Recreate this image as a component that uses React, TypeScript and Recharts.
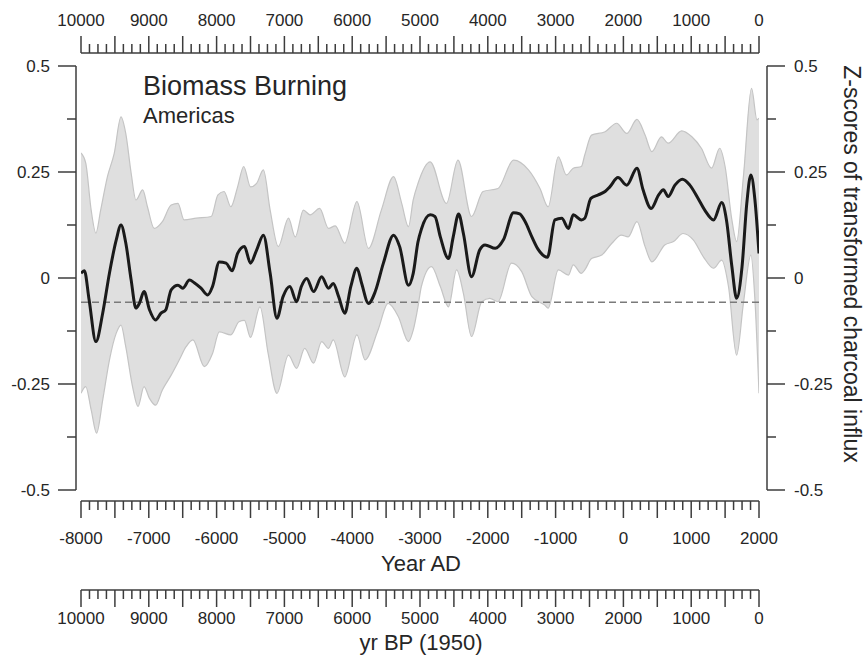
import React from 'react';
import { ComposedChart, Line, Area, XAxis, YAxis, ReferenceLine } from 'recharts';

// ---- data ----
const meanYears = [
  -8000, -7950, -7880, -7780, -7680, -7580, -7480, -7410, -7340, -7260, -7190, -7140, -7070, -6990,
  -6900, -6820, -6750, -6670, -6570, -6500, -6400, -6330, -6230, -6130, -6060, -5960, -5860, -5770,
  -5690, -5590, -5500, -5410, -5310, -5210, -5110, -5020, -4920, -4820, -4750, -4670, -4570, -4450,
  -4350, -4280, -4200, -4110, -4020, -3930, -3860, -3760, -3660, -3540, -3390, -3300, -3170, -3100,
  -3030, -2980, -2850, -2780, -2700, -2580, -2510, -2430, -2360, -2240, -2120, -2040, -1890, -1770,
  -1620, -1530, -1450, -1350, -1260, -1120, -1010, -910, -810, -740, -620, -570, -480, -370, -270,
  -200, -80, 50, 200, 290, 410, 520, 590, 660, 760, 870, 980, 1100, 1200, 1330, 1450, 1520, 1600,
  1670, 1750, 1820, 1880, 1940, 2000,
];
const meanValues = [
  0.011, 0.017, -0.052, -0.15, -0.083, 0.012, 0.09, 0.125, 0.083, -0.005, -0.071, -0.06, -0.032, -0.075,
  -0.099, -0.083, -0.075, -0.028, -0.017, -0.024, -0.005, -0.011, -0.024, -0.04, -0.02, 0.038, 0.035, 0.017,
  0.058, 0.074, 0.035, 0.066, 0.101, 0.011, -0.095, -0.044, -0.02, -0.056, -0.02, -0.001, -0.032, 0.003,
  -0.024, -0.013, -0.044, -0.083, -0.02, 0.023, -0.013, -0.06, -0.032, 0.035, 0.101, 0.074, -0.017, 0.011,
  0.085, 0.115, 0.149, 0.145, 0.097, 0.046, 0.097, 0.151, 0.105, 0.003, 0.066, 0.078, 0.07, 0.09,
  0.154, 0.151, 0.133, 0.097, 0.068, 0.049, 0.137, 0.141, 0.117, 0.149, 0.137, 0.141, 0.188, 0.196, 0.204,
  0.215, 0.237, 0.219, 0.259, 0.208, 0.164, 0.196, 0.208, 0.192, 0.219, 0.233, 0.219, 0.188, 0.16, 0.137, 0.178, 0.137, 0.027,
  -0.048, 0.027, 0.176, 0.243, 0.184, 0.058,
];

const upperYears = [
  -8000, -7930, -7850, -7780, -7710, -7610, -7510, -7410, -7340, -7260, -7190, -7090, -7020, -6920,
  -6800, -6670, -6570, -6480, -6300, -6080, -5980, -5890, -5790, -5690, -5600, -5500, -5410, -5310,
  -5210, -5090, -4940, -4840, -4720, -4620, -4480, -4350, -4250, -4110, -3930, -3760, -3570, -3390,
  -3270, -3170, -3100, -3030, -2850, -2610, -2440, -2240, -2070, -1850, -1620, -1400, -1230, -1110,
  -960, -840, -740, -620, -570, -470, -270, -100, 50, 200, 320, 420, 560, 660, 860, 1010, 1150, 1300,
  1420, 1500, 1600, 1670, 1770, 1890, 1970, 2000,
];
const upperValues = [
  0.295, 0.271, 0.16, 0.106, 0.16, 0.239, 0.294, 0.38, 0.341, 0.247, 0.184, 0.208, 0.168, 0.117,
  0.133, 0.172, 0.176, 0.137, 0.141, 0.145, 0.196, 0.204, 0.168, 0.215, 0.263, 0.215, 0.223, 0.255,
  0.16, 0.074, 0.141, 0.097, 0.16, 0.149, 0.164, 0.117, 0.123, 0.082, 0.18, 0.07, 0.16, 0.239,
  0.176, 0.121, 0.184, 0.223, 0.274, 0.176, 0.278, 0.145, 0.204, 0.211, 0.278, 0.255, 0.211, 0.168,
  0.286, 0.243, 0.259, 0.263, 0.29, 0.337, 0.345, 0.365, 0.341, 0.374, 0.337, 0.298, 0.333, 0.318, 0.347, 0.333, 0.306, 0.259,
  0.306, 0.263, 0.137, 0.086, 0.239, 0.447, 0.373, 0.377,
];

const lowerYears = [
  -8000, -7930, -7850, -7770, -7680, -7580, -7480, -7410, -7340, -7240, -7160, -7070, -6990, -6900,
  -6800, -6670, -6550, -6450, -6350, -6180, -6060, -5960, -5790, -5670, -5590, -5500, -5360, -5240,
  -5110, -4940, -4820, -4700, -4570, -4450, -4350, -4280, -4110, -3930, -3810, -3620, -3470, -3320,
  -3170, -3100, -3030, -2980, -2830, -2700, -2580, -2460, -2360, -2240, -2090, -1970, -1850, -1650,
  -1500, -1350, -1160, -1110, -960, -810, -740, -620, -570, -470, -320, -170, -30, 70, 200, 320, 420,
  610, 740, 880, 1030, 1180, 1330, 1450, 1550, 1670, 1770, 1880, 1940, 2000,
];
const lowerValues = [
  -0.272, -0.256, -0.311, -0.366, -0.288, -0.193, -0.13, -0.111, -0.162, -0.256, -0.303, -0.256, -0.284, -0.3,
  -0.264, -0.229, -0.193, -0.162, -0.146, -0.209, -0.178, -0.127, -0.134, -0.103, -0.1, -0.14, -0.068, -0.178,
  -0.272, -0.182, -0.213, -0.166, -0.201, -0.15, -0.166, -0.146, -0.233, -0.134, -0.193, -0.123, -0.06, -0.091,
  -0.15, -0.123, -0.068, -0.02, 0.027, -0.02, -0.068, 0.019, -0.036, -0.138, -0.056, -0.048, -0.056, 0.035,
  0.015, -0.044, -0.064, -0.071, 0.019, 0.007, 0.031, 0.011, 0.019, 0.046, 0.054, 0.082, 0.101, 0.097, 0.133, 0.074, 0.038,
  0.078, 0.086, 0.105, 0.09, 0.05, 0.023, 0.042, -0.02, -0.182, -0.06, 0.054, -0.052, -0.272,
];

const baselineValue = -0.057;

const adLabels = [-8000, -7000, -6000, -5000, -4000, -3000, -2000, -1000, 0, 1000, 2000];
const bpLabels = [10000, 9000, 8000, 7000, 6000, 5000, 4000, 3000, 2000, 1000, 0];
const yLabels = [-0.5, -0.25, 0, 0.25, 0.5];
// the figure's BP scale: BP = 2000 - AD
const BP_REF_YEAR = 2000;

// tick positions (every 125 yr, majors every 500 yr; y every 0.125)
const adTicks = Array.from({ length: 81 }, (_, i) => -8000 + i * 125);
const yTicks = Array.from({ length: 9 }, (_, i) => -0.5 + i * 0.125);

const meanData = meanYears.map((year, i) => ({ year, value: meanValues[i] }));
const upperData = upperYears.map((year, i) => ({ year, value: upperValues[i] }));
const lowerData = lowerYears.map((year, i) => ({ year, value: lowerValues[i] }));

// ---- styles ----
const FONT = "'Liberation Sans', Arial, Helvetica, sans-serif";
const AXIS = '#3c3c3c';
const TEXT = '#262626';
const TICK_FS = 17;
const MAJOR = 17;
const MINOR = 9;

const isMultiple = (v: number, step: number) => Math.abs(v / step - Math.round(v / step)) < 1e-6;

function makeXTick(direction: number, labelDy: number, labels: number[], toLabel: (v: number) => number) {
  return (props: any) => {
    const { x, y, payload } = props;
    const v = payload.value as number;
    const len = isMultiple(v, 500) ? MAJOR : MINOR;
    const shown = toLabel(v);
    const labeled = labels.includes(shown);
    return (
      <g>
        <line x1={x} y1={y} x2={x} y2={y + direction * len} stroke={AXIS} strokeWidth={1.5} />
        {labeled ? (
          <text x={x} y={y + labelDy} textAnchor="middle" fontFamily={FONT} fontSize={TICK_FS} fill={TEXT}>
            {String(shown)}
          </text>
        ) : null}
      </g>
    );
  };
}

function makeYTick(direction: number, labelDx: number) {
  return (props: any) => {
    const { x, y, payload } = props;
    const v = payload.value as number;
    const labeled = yLabels.some((l) => Math.abs(l - v) < 1e-9);
    const len = labeled ? 18 : MINOR;
    return (
      <g>
        <line x1={x} y1={y} x2={x + direction * len} y2={y} stroke={AXIS} strokeWidth={1.5} />
        {labeled ? (
          <text
            x={x + labelDx}
            y={y + 6}
            textAnchor={direction < 0 ? 'end' : 'start'}
            fontFamily={FONT}
            fontSize={TICK_FS}
            fill={TEXT}
          >
            {v === 0 ? '0' : String(v)}
          </text>
        ) : null}
      </g>
    );
  };
}

const adLabel = (v: number) => v;
const bpLabel = (v: number) => BP_REF_YEAR - v;

const axisLineStyle = { stroke: AXIS, strokeWidth: 1.5 };

export default function App() {
  return (
    <div style={{ position: 'absolute', left: 0, top: 0, background: '#fff' }}>
      <ComposedChart width={864} height={659} data={meanData} margin={{ top: 0, right: 0, bottom: 0, left: 0 }}>
        {/* top BP axis */}
        <XAxis xAxisId="t1pad" dataKey="year" orientation="top" type="number" domain={[-8000, 2000]} height={13}
          tick={false} axisLine={false} tickLine={false} allowDataOverflow />
        <XAxis xAxisId="t2bp" dataKey="year" orientation="top" type="number" domain={[-8000, 2000]}
          ticks={adTicks} interval={0} height={53} tickSize={0} tickMargin={0} tickLine={false}
          axisLine={axisLineStyle} tick={makeXTick(-1, -27, bpLabels, bpLabel)} allowDataOverflow />
        {/* bottom axes */}
        <XAxis xAxisId="b1pad" dataKey="year" orientation="bottom" type="number" domain={[-8000, 2000]} height={11}
          tick={false} axisLine={false} tickLine={false} allowDataOverflow />
        <XAxis xAxisId="b2ad" dataKey="year" orientation="bottom" type="number" domain={[-8000, 2000]}
          ticks={adTicks} interval={0} height={89} tickSize={0} tickMargin={0} tickLine={false}
          axisLine={axisLineStyle} tick={makeXTick(1, 43, adLabels, adLabel)} allowDataOverflow
          label={{
            content: (p: any) => {
              const vb = p.viewBox || {};
              return (
                <text x={vb.x + vb.width / 2 + 1} y={vb.y + 70} textAnchor="middle" fontFamily={FONT}
                  fontSize={22} fill={TEXT}>Year AD</text>
              );
            },
          }} />
        <XAxis xAxisId="b3bp" dataKey="year" orientation="bottom" type="number" domain={[-8000, 2000]}
          ticks={adTicks} interval={0} height={69} tickSize={0} tickMargin={0} tickLine={false}
          axisLine={axisLineStyle} tick={makeXTick(1, 34, bpLabels, bpLabel)} allowDataOverflow
          label={{
            content: (p: any) => {
              const vb = p.viewBox || {};
              return (
                <text x={vb.x + vb.width / 2 + 1} y={vb.y + 60} textAnchor="middle" fontFamily={FONT}
                  fontSize={22} fill={TEXT}>yr BP (1950)</text>
              );
            },
          }} />
        {/* y axes */}
        <YAxis yAxisId="l1pad" orientation="left" type="number" domain={[-0.5, 0.5]} width={5}
          tick={false} axisLine={false} tickLine={false} allowDataOverflow />
        <YAxis yAxisId="l2main" orientation="left" type="number" domain={[-0.5, 0.5]} ticks={yTicks}
          interval={0} width={76} tickSize={0} tickMargin={0} tickLine={false} axisLine={axisLineStyle}
          tick={makeYTick(-1, -26)} allowDataOverflow />
        <YAxis yAxisId="r1pad" orientation="right" type="number" domain={[-0.5, 0.5]} width={8}
          tick={false} axisLine={false} tickLine={false} allowDataOverflow />
        <YAxis yAxisId="r2main" orientation="right" type="number" domain={[-0.5, 0.5]} ticks={yTicks}
          interval={0} width={97} tickSize={0} tickMargin={0} tickLine={false} axisLine={axisLineStyle}
          tick={makeYTick(1, 27)} allowDataOverflow
          label={{
            content: (p: any) => {
              const vb = p.viewBox || {};
              const cx = vb.x + 85;
              const cy = vb.y + vb.height / 2 - 14;
              return (
                <text x={cx} y={cy} transform={`rotate(90, ${cx}, ${cy})`} textAnchor="middle"
                  dominantBaseline="central" fontFamily={FONT} fontSize={23} fill={TEXT}>
                  Z-scores of transformed charcoal influx
                </text>
              );
            },
          }} />

        {/* uncertainty band: upper envelope filled, lower envelope masked */}
        <Area xAxisId="b2ad" yAxisId="l2main" data={upperData} dataKey="value" type="monotone" baseValue={-0.5}
          fill="#dfdfdf" fillOpacity={1} stroke="#c4c4c4" strokeWidth={1.2} isAnimationActive={false}
          dot={false} activeDot={false} />
        <Area xAxisId="b2ad" yAxisId="l2main" data={lowerData} dataKey="value" type="monotone" baseValue={-0.5}
          fill="#ffffff" fillOpacity={1} stroke="#c4c4c4" strokeWidth={1.2} isAnimationActive={false}
          dot={false} activeDot={false} />
        <ReferenceLine xAxisId="b2ad" yAxisId="l2main" y={baselineValue} stroke="#7a7a7a" strokeWidth={1.5}
          strokeDasharray="7 4" />
        <Line xAxisId="b2ad" yAxisId="l2main" data={meanData} dataKey="value" type="monotone" stroke="#1a1a1a"
          strokeWidth={3} dot={false} activeDot={false} isAnimationActive={false} />

        <text x={143} y={95} fontFamily={FONT} fontSize={27} fill={TEXT}>Biomass Burning</text>
        <text x={143} y={123} fontFamily={FONT} fontSize={22} fill={TEXT}>Americas</text>
      </ComposedChart>
    </div>
  );
}
